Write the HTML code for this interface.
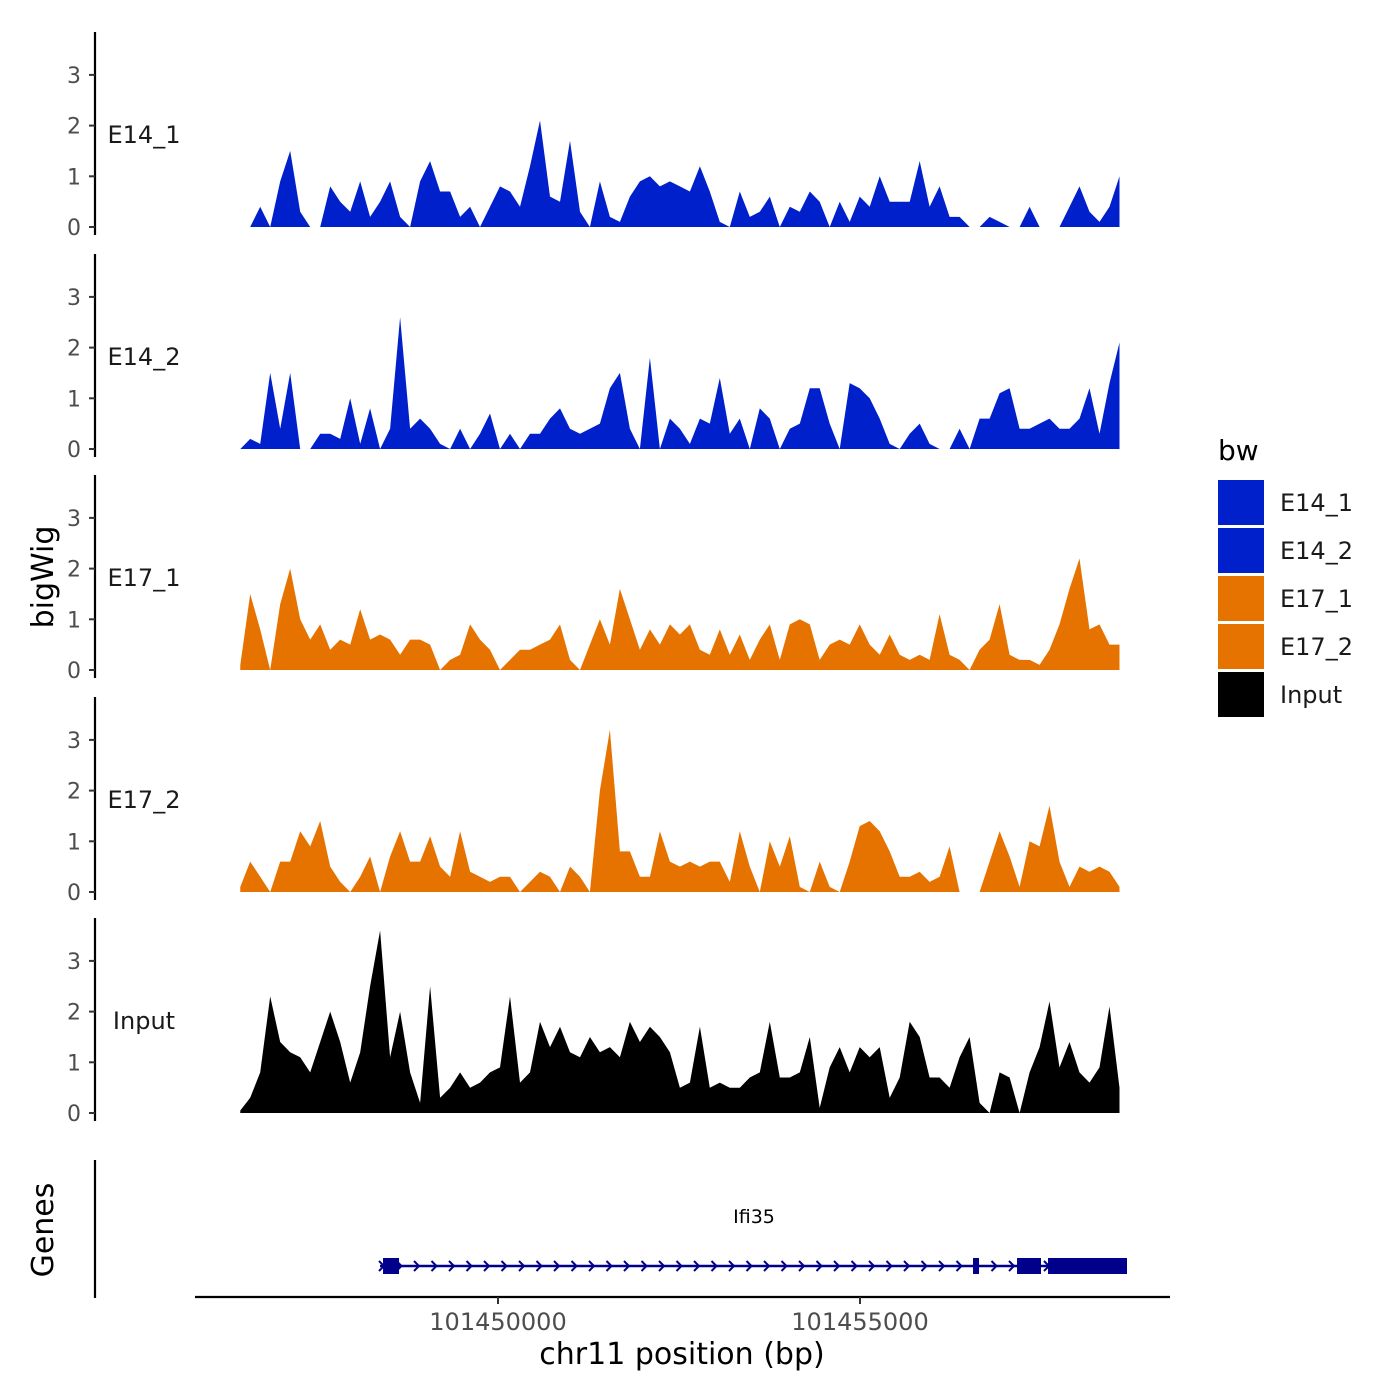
<!DOCTYPE html>
<html><head><meta charset="utf-8"><style>
html,body{margin:0;padding:0;background:#fff;width:1400px;height:1400px;overflow:hidden}
text{font-family:"DejaVu Sans","Liberation Sans",sans-serif}
</style></head><body>
<svg id="chart" width="1400" height="1400" viewBox="0 0 1400 1400" xmlns="http://www.w3.org/2000/svg">
<g id="tracks"></g>
<text x="53" y="577" font-size="30" text-anchor="middle" transform="rotate(-90 53 577)">bigWig</text>
<g>
<line x1="95" y1="1160" x2="95" y2="1298" stroke="#000" stroke-width="2.2"/>
<text x="53" y="1230" font-size="30" text-anchor="middle" transform="rotate(-90 53 1230)">Genes</text>
<g id="gene"></g>
<text x="754" y="1223" font-size="19" text-anchor="middle">Ifi35</text>
</g>
<g id="xaxis">
<line x1="195" y1="1297" x2="1170" y2="1297" stroke="#000" stroke-width="2.2"/>
</g>
<text x="682" y="1364" font-size="30" text-anchor="middle">chr11 position (bp)</text>
<g id="legend">
<text x="1218" y="460" font-size="28">bw</text>
</g>
</svg>
<script>
const trackNames = ["E14_1","E14_2","E17_1","E17_2","Input"];
const trackColors = ["#0020cc","#0020cc","#e67300","#e67300","#000000"];
const startBp = 101446440;
const stepBp = 138;
const e14_1 = [0,0,0.4,0,0.9,1.5,0.3,0,0,0.8,0.5,0.3,0.9,0.2,0.5,0.9,0.2,0,0.9,1.3,0.7,0.7,0.2,0.4,0,0.4,0.8,0.7,0.4,1.2,2.1,0.6,0.5,1.7,0.3,0,0.9,0.2,0.1,0.6,0.9,1.0,0.8,0.9,0.8,0.7,1.2,0.7,0.1,0,0.7,0.2,0.3,0.6,0,0.4,0.3,0.7,0.5,0,0.5,0.1,0.6,0.4,1.0,0.5,0.5,0.5,1.3,0.4,0.8,0.2,0.2,0,0,0.2,0.1,0,0,0.4,0,0,0,0.4,0.8,0.3,0.1,0.4,1.0];
const e14_2 = [0,0.2,0.1,1.5,0.4,1.5,0,0,0.3,0.3,0.2,1.0,0.1,0.8,0,0.4,2.6,0.4,0.6,0.4,0.1,0,0.4,0,0.3,0.7,0,0.3,0,0.3,0.3,0.6,0.8,0.4,0.3,0.4,0.5,1.2,1.5,0.4,0,1.8,0,0.6,0.4,0.1,0.6,0.5,1.4,0.3,0.6,0,0.8,0.6,0,0.4,0.5,1.2,1.2,0.5,0,1.3,1.2,1.0,0.6,0.1,0,0.3,0.5,0.1,0,0,0.4,0,0.6,0.6,1.1,1.2,0.4,0.4,0.5,0.6,0.4,0.4,0.6,1.2,0.3,1.3,2.1];
const e17_1 = [0.1,1.5,0.8,0,1.3,2.0,1.0,0.6,0.9,0.4,0.6,0.5,1.2,0.6,0.7,0.6,0.3,0.6,0.6,0.5,0,0.2,0.3,0.9,0.6,0.4,0,0.2,0.4,0.4,0.5,0.6,0.9,0.2,0,0.5,1.0,0.5,1.6,1.0,0.4,0.8,0.5,0.9,0.7,0.9,0.4,0.3,0.8,0.3,0.7,0.2,0.6,0.9,0.2,0.9,1.0,0.9,0.2,0.5,0.6,0.5,0.9,0.5,0.3,0.7,0.3,0.2,0.3,0.2,1.1,0.3,0.2,0,0.4,0.6,1.3,0.3,0.2,0.2,0.1,0.4,0.9,1.6,2.2,0.8,0.9,0.5,0.5];
const e17_2 = [0.1,0.6,0.3,0,0.6,0.6,1.2,0.9,1.4,0.5,0.2,0,0.3,0.7,0,0.7,1.2,0.6,0.6,1.1,0.5,0.3,1.2,0.4,0.3,0.2,0.3,0.3,0,0.2,0.4,0.3,0,0.5,0.3,0,2.0,3.2,0.8,0.8,0.3,0.3,1.2,0.6,0.5,0.6,0.5,0.6,0.6,0.2,1.2,0.5,0,1.0,0.5,1.1,0.1,0,0.6,0.1,0,0.6,1.3,1.4,1.2,0.8,0.3,0.3,0.4,0.2,0.3,0.9,0,0,0,0.6,1.2,0.7,0.1,1.0,0.9,1.7,0.6,0.1,0.5,0.4,0.5,0.4,0.1];
const input = [0.05,0.3,0.8,2.3,1.4,1.2,1.1,0.8,1.4,2.0,1.4,0.6,1.2,2.5,3.6,1.1,2.0,0.8,0.2,2.5,0.3,0.5,0.8,0.5,0.6,0.8,0.9,2.3,0.6,0.8,1.8,1.3,1.7,1.2,1.1,1.5,1.2,1.3,1.1,1.8,1.4,1.7,1.5,1.2,0.5,0.6,1.7,0.5,0.6,0.5,0.5,0.7,0.8,1.8,0.7,0.7,0.8,1.5,0.1,0.9,1.3,0.8,1.3,1.1,1.3,0.3,0.7,1.8,1.5,0.7,0.7,0.5,1.1,1.5,0.2,0,0.8,0.7,0,0.8,1.3,2.2,0.9,1.4,0.8,0.6,0.9,2.1,0.5];
const yTicks = [0,1,2,3];
const xTicks = [101450000,101455000];
const xTickLabels = ["101450000","101455000"];
const geneStart = 101448370, geneEnd = 101458688;
const exonStarts = [101448412,101456561,101457169,101457597];
const exonEnds = [101448633,101456644,101457500,101458688];

const NS = "http://www.w3.org/2000/svg";
function xs(bp){ return 498 + (bp - 101450000) * 0.0724; }
const zeros = [227,449,670,892,1113], unit = 50.7;
function mk(tag, attrs, parent){ const e=document.createElementNS(NS,tag); for(const k in attrs) e.setAttribute(k,attrs[k]); parent.appendChild(e); return e; }
const series = [e14_1,e14_2,e17_1,e17_2,input];
const tg = document.getElementById('tracks');
series.forEach((vals,i)=>{
  const z = zeros[i];
  const g = mk('g',{},tg);
  
  
  let d = 'M'+xs(startBp)+','+z;
  vals.forEach((v,j)=>{ d += ' L'+xs(startBp+j*stepBp).toFixed(1)+','+(z - v*unit).toFixed(1); });
  d += ' L'+xs(startBp+(vals.length-1)*stepBp).toFixed(1)+','+z+' Z';
  const p = mk('path',{d:d,fill:trackColors[i]},g);
  
  
  const ax = mk('line',{x1:95,y1:z-195,x2:95,y2:z+8,stroke:'#000','stroke-width':2.2},g);
  
  
  yTicks.forEach(t=>{
    const y = z - t*unit;
    mk('line',{x1:89,y1:y,x2:95,y2:y,stroke:'#333','stroke-width':2},g);
    const tx = mk('text',{x:81,y:y+8,'font-size':22,'text-anchor':'end',fill:'#4d4d4d'},g);
    tx.textContent = t;
    
    
  });
  const lb = mk('text',{x:144,y:z-93+9,'font-size':24,'text-anchor':'middle',fill:'#1a1a1a'},g);
  lb.textContent = trackNames[i];
  
  
});
const xa = document.getElementById('xaxis');
xTicks.forEach((t,i)=>{
  const x = xs(t);
  mk('line',{x1:x,y1:1297,x2:x,y2:1304,stroke:'#333','stroke-width':2},xa);
  const tx = mk('text',{x:x,y:1330,'font-size':24,'text-anchor':'middle',fill:'#4d4d4d'},xa);
  tx.textContent = xTickLabels[i];
  
  
});
const gg = document.getElementById('gene');
const gx1 = xs(geneStart), gx2 = xs(geneEnd);
mk('line',{x1:gx1,y1:1266,x2:gx2,y2:1266,stroke:'#00008b','stroke-width':2.5},gg);
for(let x=gx1+2; x<gx2-5; x+=17.5){
  mk('path',{d:`M${x-3},${1261} L${x+2},1266 L${x-3},1271`,fill:'none',stroke:'#00008b','stroke-width':2},gg);
}
exonStarts.forEach((s,i)=>{
  const r = mk('rect',{x:xs(s),y:1258,width:xs(exonEnds[i])-xs(s),height:16,fill:'#00008b'},gg);
  
  
});
const lg = document.getElementById('legend');
trackNames.forEach((n,i)=>{
  const y = 480 + i*48;
  const r = mk('rect',{x:1218,y:y,width:46,height:45,fill:trackColors[i]},lg);
  
  
  const t = mk('text',{x:1280,y:y+31,'font-size':24,fill:'#1a1a1a'},lg);
  t.textContent = n;
  
  
});
</script>
</body></html>
